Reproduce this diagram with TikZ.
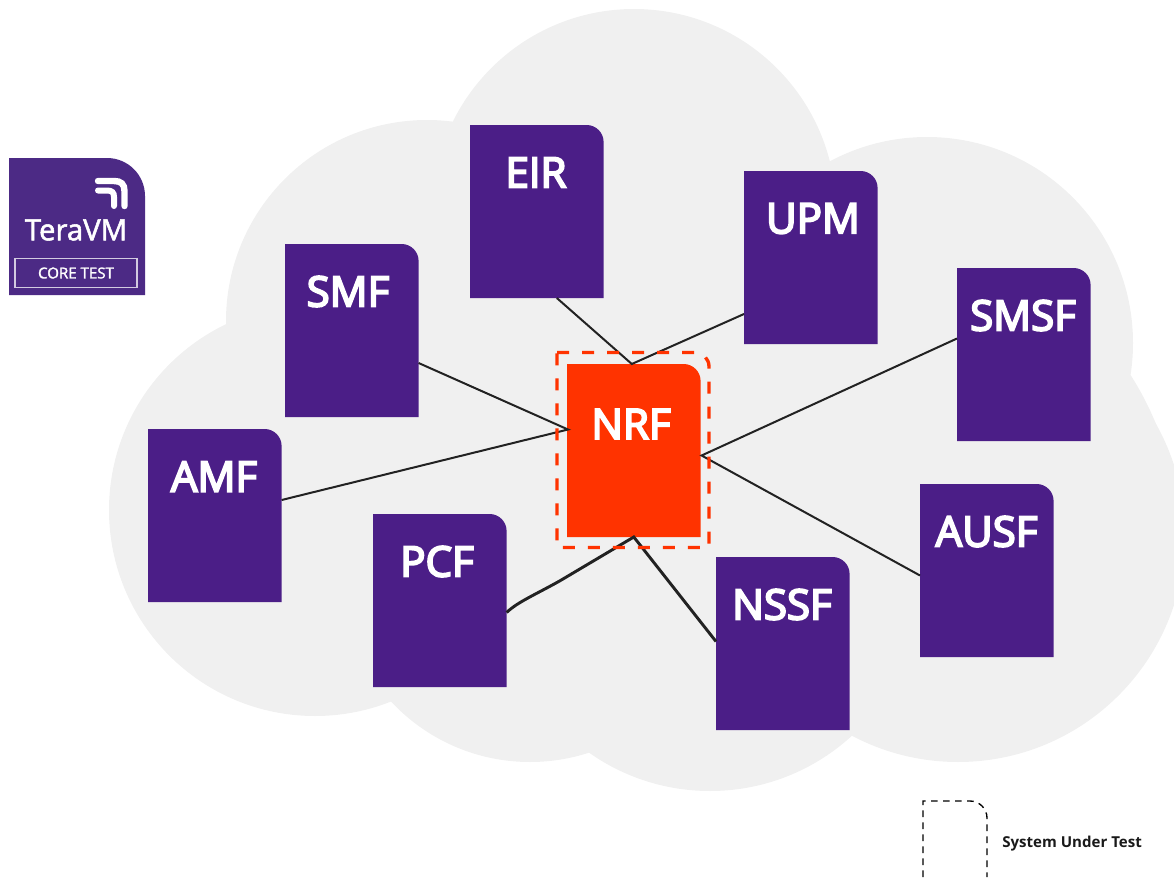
\documentclass[tikz,border=0pt]{standalone}
\usepackage{fontspec}
\usetikzlibrary{calc}
\setmainfont{Open Sans}
\newfontfamily\semi[FakeBold=4.5]{Open Sans}
\newfontfamily\semib[FakeBold=1.8]{Open Sans}
\definecolor{cloudc}{HTML}{F0F0F0}
\definecolor{purp}{HTML}{4B1E87}
\definecolor{badgec}{HTML}{4C2A85}
\definecolor{nrfc}{HTML}{FF3300}
\definecolor{linec}{HTML}{222222}
\tikzset{
  x=0.75pt,y=-0.75pt,
  boxframe/.style={minimum width=100.2pt,minimum height=129.75pt,inner sep=0pt,outer sep=0pt},
  lbl/.style={text=white,font=\semi\fontsize{31.5}{31.5}\selectfont,inner sep=0pt,anchor=center},
  conn/.style={draw=linec,line width=1.5pt},
  connthick/.style={draw=linec,line width=2.2pt},
}
\newcommand{\nfbox}[7]{%
  \node[boxframe] (#1) at (#2+66.8,#3+86.5) {};
  \fill[#6] (#1.north west) -- ($(#1.north east)+(-17,0)$) arc[start angle=90,end angle=0,x radius=17,y radius=-17] -- (#1.south east) -- (#1.south west) -- cycle;
  \node[lbl] (#1t) at (#5,#7) {#4};
}
\begin{document}
\begin{tikzpicture}
\useasboundingbox (0,0) rectangle (1174,881);
\begin{scope}
\clip (0,0) rectangle (1174,881);
\fill[cloudc] (634,211) circle[radius=202];
\fill[cloudc] (427,321) circle[radius=201];
\fill[cloudc] (315,510) circle[radius=206];
\fill[cloudc] (927,343) circle[radius=206];
\fill[cloudc] (958,535) circle[radius=227];
\fill[cloudc] (710,581) circle[radius=210];
\fill[cloudc] (530,572) circle[radius=190];
\fill[cloudc] (630,450) circle[radius=250];
\begin{scope}
\clip (1000,375) rectangle (1174,635);
\fill[cloudc] (878,537) circle[radius=300];
\end{scope}
\end{scope}
\nfbox{nrf}{567}{364}{NRF}{631}{nrfc}{424}
\nfbox{eir}{470}{125}{EIR}{536}{purp}{172.5}
\nfbox{upm}{744}{171}{UPM}{813}{purp}{218.5}
\nfbox{smf}{285}{244}{SMF}{348}{purp}{291.5}
\nfbox{smsf}{957}{268}{SMSF}{1023}{purp}{315.5}
\nfbox{amf}{148}{429}{AMF}{214}{purp}{476.5}
\nfbox{ausf}{920}{484}{AUSF}{986.5}{purp}{531.5}
\nfbox{pcf}{373}{514}{PCF}{437}{purp}{561.5}
\nfbox{nssf}{716}{557}{NSSF}{782}{purp}{604.5}
\draw[conn] ($(eir.south)+(20,0)$) -- ($(nrf.north)+(-2,0)$) -- ($(upm.south west)+(0,-30)$);
\draw[conn] ($(smf.south east)+(0,-54)$) -- ($(nrf.west)+(1,-21)$) -- ($(amf.south east)+(0,-102)$);
\draw[conn] ($(smsf.west)+(0,-16)$) -- ($(nrf.east)+(1,5)$) -- ($(ausf.west)+(0,5)$);
\draw[connthick] ($(pcf.east)+(0,12)$) .. controls ($(pcf.east)+(11,1.5)$) and ($(pcf.east)+(28,-5.5)$) .. ($(pcf.east)+(53,-19.5)$) -- (nrf.south) -- ($(nssf.west)+(0,-2)$);
\node[minimum width=114pt,minimum height=146.25pt,inner sep=0pt,outer sep=0pt] (sut) at (633,450) {};
\draw[nrfc,line width=2.5pt,dash pattern=on 9pt off 9.75pt] (sut.north west) -- ($(sut.north east)+(-14,0)$) arc[start angle=90,end angle=0,x radius=14,y radius=-14] -- (sut.south east) -- (sut.south west) -- cycle;
% badge
\node[minimum width=102pt,minimum height=102.75pt,inner sep=0pt,outer sep=0pt] (badge) at (77,226.5) {};
\fill[badgec] (badge.north west) -- ($(badge.north east)+(-38,0)$) arc[start angle=90,end angle=0,x radius=38,y radius=-38] -- (badge.south east) -- (badge.south west) -- cycle;
\draw[white,line width=4.8pt,line cap=round] (98,181) -- (114,181) .. controls (121,181) and (124.5,184) .. (124.5,191) -- (124.5,206);
\draw[white,line width=4.5pt,line cap=round] (98,190.5) -- (107,190.5) .. controls (112,190.5) and (114,192.5) .. (114,197) -- (114,206);
\node[text=white,inner sep=0pt,font=\semib\fontsize{22}{22}\selectfont] (tv) at (76,230) {TeraVM};
\node[draw=white!75!badgec,line width=0.8pt,minimum width=91.5pt,minimum height=22pt,inner sep=0pt,text=white,font=\semib\fontsize{11.3}{11.3}\selectfont] (ct) at (76,273) {CORE TEST};
% legend
\coordinate (la) at (923,877);
\coordinate (lb) at (987,877);
\draw[black,line width=1pt,dash pattern=on 5pt off 4pt] (la) -- (923,801) -- (970,801) arc[start angle=90,end angle=0,x radius=17,y radius=-17] -- (lb);
\node[font=\bfseries\fontsize{11.3}{11.3}\selectfont,text=black!90,inner sep=0pt,anchor=west] (legendtxt) at (1002,844) {System Under Test};
\end{tikzpicture}
\end{document}
